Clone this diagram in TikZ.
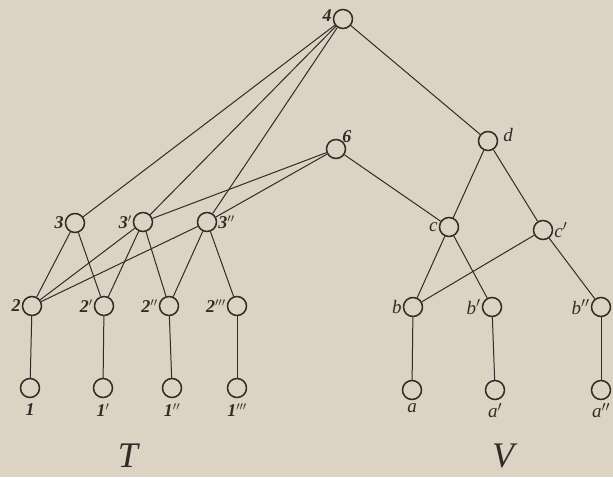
\documentclass[tikz,border=0pt]{standalone}
\usepackage{fontspec}
\setmainfont{Liberation Serif}
\definecolor{paper}{RGB}{220,211,197}
\definecolor{ink}{RGB}{50,42,38}
\begin{document}
\begin{tikzpicture}[x=1pt,y=-1pt,
  vert/.style={circle,draw=ink,line width=1.5pt,minimum size=19pt,inner sep=0pt},
  edge/.style={draw=ink,line width=1pt},
  lab/.style={text=ink,font=\fontsize{18}{20}\selectfont\itshape\bfseries,inner sep=1pt},
  labl/.style={text=ink,font=\fontsize{19}{21}\selectfont\itshape,inner sep=1pt},
  big/.style={text=ink,font=\fontsize{36}{40}\selectfont\itshape}]
\fill[paper] (0,0) rectangle (613,477);
\useasboundingbox (0,0) rectangle (613,477);
% T side
\node[vert] (n4) at (343,19) {};
\node[vert] (n6) at (336,149) {};
\node[vert] (n3) at (75,223) {};
\node[vert] (n3a) at (143,222) {};
\node[vert] (n3b) at (207,222) {};
\node[vert] (n2) at (32,306) {};
\node[vert] (n2a) at (104,306) {};
\node[vert] (n2b) at (169,306) {};
\node[vert] (n2c) at (237,306) {};
\node[vert] (n1) at (30,388) {};
\node[vert] (n1a) at (103,388) {};
\node[vert] (n1b) at (172,388) {};
\node[vert] (n1c) at (237,388) {};
% V side
\node[vert] (nd) at (488,141) {};
\node[vert] (nc) at (449,227) {};
\node[vert] (nca) at (543,230) {};
\node[vert] (nb) at (413,307) {};
\node[vert] (nba) at (492,307) {};
\node[vert] (nbb) at (601,307) {};
\node[vert] (na) at (412,390) {};
\node[vert] (naa) at (495,390) {};
\node[vert] (nab) at (601,390) {};
% edges
\foreach \a/\b in {n4/n3,n4/n3a,n4/n3b,n4/nd,n6/n3a,n6/n3b,n6/nc,
  n3/n2,n3/n2a,n3a/n2,n3a/n2a,n3a/n2b,n3b/n2,n3b/n2b,n3b/n2c,
  n2/n1,n2a/n1a,n2b/n1b,n2c/n1c,
  nd/nc,nd/nca,nc/nb,nc/nba,nca/nb,nca/nbb,nb/na,nba/naa,nbb/nab}
  \draw[edge] (\a) -- (\b);
% labels
\node[lab,anchor=east] (k4) at ([yshift=3pt]n4.west) {4};
\node[lab,anchor=south west] (k6) at ([xshift=-2pt,yshift=-2pt]n6.north east) {6};
\node[lab,anchor=east] (k3) at (n3.west) {3};
\node[lab,anchor=east] (k3a) at (n3a.west) {3$'$};
\node[lab,anchor=west] (k3b) at (n3b.east) {3$''$};
\node[lab,anchor=east] (k2) at (n2.west) {2};
\node[lab,anchor=east] (k2a) at (n2a.west) {2$'$};
\node[lab,anchor=east] (k2b) at (n2b.west) {2$''$};
\node[lab,anchor=east] (k2c) at (n2c.west) {2$'''$};
\node[lab,anchor=north] (k1) at ([yshift=-4pt]n1.south) {1};
\node[lab,anchor=north] (k1a) at ([yshift=-4pt]n1a.south) {1$'$};
\node[lab,anchor=north] (k1b) at ([yshift=-4pt]n1b.south) {1$''$};
\node[lab,anchor=north] (k1c) at ([yshift=-4pt]n1c.south) {1$'''$};
\node[labl,anchor=west] (kd) at ([xshift=4pt,yshift=6pt]nd.east) {d};
\node[labl,anchor=east] (kc) at (nc.west) {c};
\node[labl,anchor=west] (kca) at (nca.east) {c$'$};
\node[labl,anchor=east] (kb) at (nb.west) {b};
\node[labl,anchor=east] (kba) at (nba.west) {b$'$};
\node[labl,anchor=east] (kbb) at (nbb.west) {b$''$};
\node[labl,anchor=north] (ka) at ([yshift=-2pt]na.south) {a};
\node[labl,anchor=north] (kaa) at ([yshift=-2pt]naa.south) {a$'$};
\node[labl,anchor=north] (kab) at ([yshift=-2pt]nab.south) {a$''$};
\node[big] (T) at (128,456) {T};
\node[big] (V) at (503,456) {V};
\end{tikzpicture}
\end{document}
